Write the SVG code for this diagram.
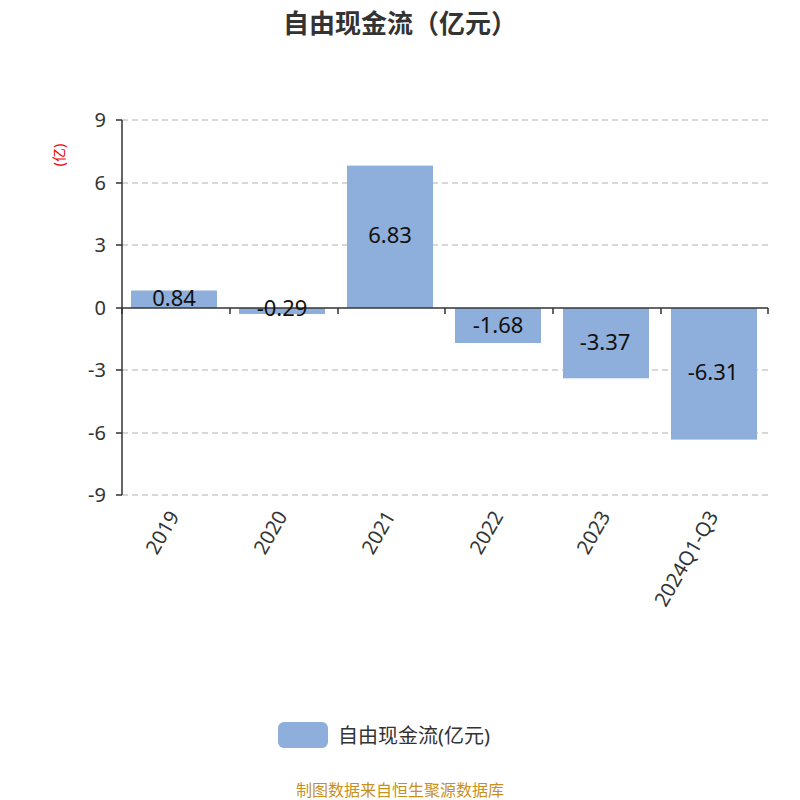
<svg xmlns="http://www.w3.org/2000/svg" width="800" height="800" viewBox="0 0 800 800">
<style>
text{font-family:"Noto Sans","Noto Sans CJK SC",sans-serif;fill:#333}
.g{stroke:#ccc;stroke-dasharray:6,4;stroke-width:1.5}
.ax{stroke:#333;stroke-width:1.5}
.bar{fill:#8eaedb}
.yl{font-size:20px;text-anchor:end}
.xl{font-size:20px;text-anchor:end}
.v{font-size:22px;text-anchor:middle;fill:#111}
</style>
<rect width="800" height="800" fill="#fff"/>
<text x="400" y="33" font-size="26" font-weight="bold" text-anchor="middle">自由现金流（亿元）</text>
<text transform="translate(64,155) rotate(-90)" font-size="14" text-anchor="middle" style="fill:#e00">(亿)</text>
<g id="grid">
<line class="g" x1="122" y1="120" x2="768" y2="120"/>
<line class="g" x1="122" y1="183" x2="768" y2="183"/>
<line class="g" x1="122" y1="245" x2="768" y2="245"/>
<line class="g" x1="122" y1="370" x2="768" y2="370"/>
<line class="g" x1="122" y1="433" x2="768" y2="433"/>
<line class="g" x1="122" y1="495" x2="768" y2="495"/>
</g>
<g id="yaxis">
<line class="ax" x1="122" y1="120" x2="122" y2="495"/>
<path class="ax" d="M116 120H122M116 183H122M116 245H122M116 308H122M116 370H122M116 433H122M116 495H122"/>
<text class="yl" x="106" y="127">9</text>
<text class="yl" x="106" y="190">6</text>
<text class="yl" x="106" y="252">3</text>
<text class="yl" x="106" y="315">0</text>
<text class="yl" x="106" y="377">-3</text>
<text class="yl" x="106" y="440">-6</text>
<text class="yl" x="106" y="502">-9</text>
</g>
<g id="bars">
<rect class="bar" x="131" y="290.5" width="86" height="17.5"/>
<rect class="bar" x="239" y="308" width="86" height="6"/>
<rect class="bar" x="347" y="165.6" width="86" height="142.4"/>
<rect class="bar" x="455" y="308" width="86" height="35"/>
<rect class="bar" x="563" y="308" width="86" height="70.3"/>
<rect class="bar" x="671" y="308" width="86" height="131.6"/>
</g>
<g id="xaxis">
<line class="ax" x1="122" y1="308" x2="768" y2="308"/>
<path class="ax" d="M122 308V314M230 308V314M338 308V314M445 308V314M553 308V314M661 308V314M768 308V314"/>
</g>
<g id="values">
<text class="v" x="174" y="306">0.84</text>
<text class="v" x="282" y="316">-0.29</text>
<text class="v" x="390" y="243">6.83</text>
<text class="v" x="498" y="333">-1.68</text>
<text class="v" x="605" y="350">-3.37</text>
<text class="v" x="713" y="380">-6.31</text>
</g>
<g id="xlabels">
<text class="xl" transform="translate(180,516) rotate(-60)">2019</text>
<text class="xl" transform="translate(288,516) rotate(-60)">2020</text>
<text class="xl" transform="translate(396,516) rotate(-60)">2021</text>
<text class="xl" transform="translate(504,516) rotate(-60)">2022</text>
<text class="xl" transform="translate(611,516) rotate(-60)">2023</text>
<text class="xl" transform="translate(719,516) rotate(-60)">2024Q1-Q3</text>
</g>
<g id="legend">
<rect class="bar" x="278" y="722" width="50" height="26" rx="6"/>
<text x="338" y="743" font-size="20">自由现金流(亿元)</text>
</g>
<text x="400" y="796" font-size="16" text-anchor="middle" style="fill:#c8901e">制图数据来自恒生聚源数据库</text>
</svg>
